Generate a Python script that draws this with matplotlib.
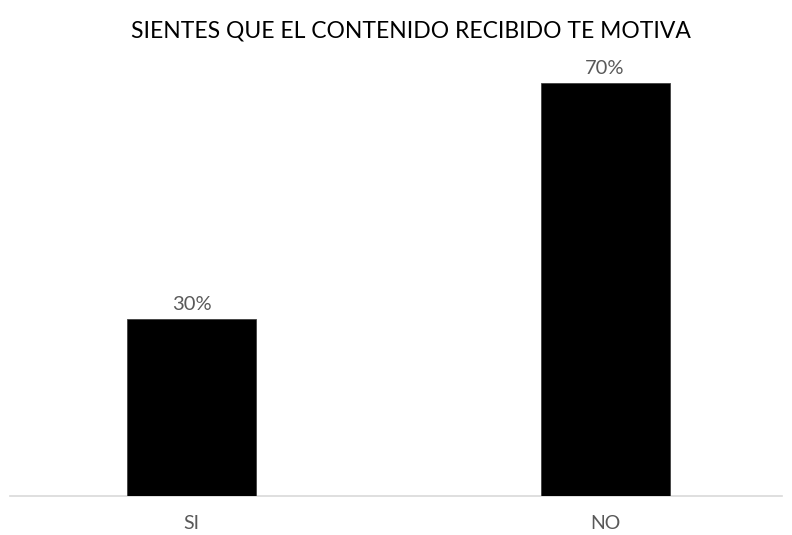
import matplotlib
matplotlib.use("Agg")
import matplotlib.pyplot as plt

categories = ["SI", "NO"]
values = [30, 70]
value_labels = ["30%", "70%"]
title = "SIENTES QUE EL CONTENIDO RECIBIDO TE MOTIVA"

plt.rcParams["font.family"] = ["Lato", "DejaVu Sans"]

W, H = 792, 535
fig = plt.figure(figsize=(W / 100, H / 100), dpi=100)

# axes box in pixels: left 10, right 782, bottom baseline 496, top 60
left, right, bottom, top = 10, 782, 496, 60
ax = fig.add_axes([left / W, 1 - bottom / H, (right - left) / W, (bottom - top) / H])

x = list(range(len(categories)))
ax.bar(x, values, width=0.312, color="black", edgecolor="#404040", linewidth=0.6, zorder=3)

for xi, v, lab in zip(x, values, value_labels):
    ax.annotate(lab, (xi, v), xytext=(0, 4), textcoords="offset points",
                ha="center", va="bottom", fontsize=14.5, color="#595959")

ax.set_xlim(-0.439, 1.428)
ax.set_ylim(0, (bottom - top) / 5.9)
ax.set_xticks(x)
ax.set_xticklabels(categories, fontsize=14, color="#595959")
ax.tick_params(axis="x", length=0, pad=14)
ax.set_yticks([])
for s in ["top", "right", "left"]:
    ax.spines[s].set_visible(False)
ax.spines["bottom"].set_color("#d9d9d9")
ax.spines["bottom"].set_linewidth(1.2)

fig.text(411 / W, 1 - 31 / H, title, ha="center", va="center", fontsize=16.5, color="black")

fig.savefig("out.png", dpi=100, facecolor="white")
